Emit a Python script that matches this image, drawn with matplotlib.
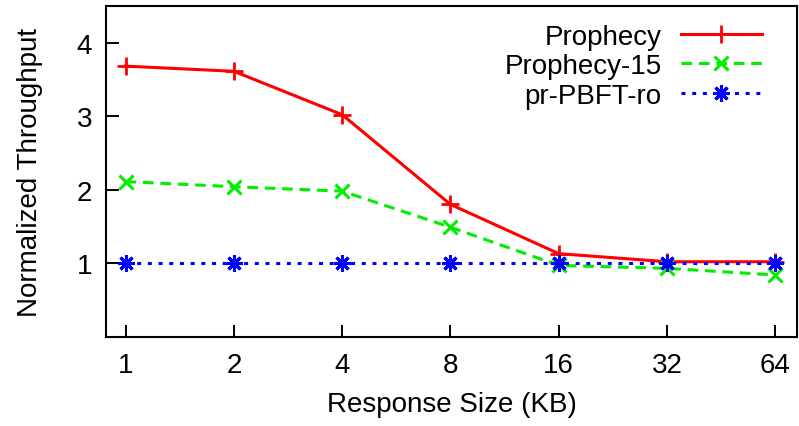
import matplotlib
matplotlib.use("Agg")
import matplotlib.pyplot as plt

sizes = ["1", "2", "4", "8", "16", "32", "64"]
prophecy = [3.68, 3.61, 3.02, 1.80, 1.13, 1.02, 1.02]
prophecy15 = [2.11, 2.04, 1.98, 1.49, 0.97, 0.93, 0.84]
prpbft = [1.0, 1.0, 1.0, 1.0, 1.0, 1.0, 1.0]

plt.rcParams['font.family'] = ['Liberation Sans', 'DejaVu Sans']
fig = plt.figure(figsize=(7.99, 4.27), dpi=100)
ax = fig.add_axes([0.1327, 0.209, 0.9975 - 0.1327, 0.984 - 0.209])

x = list(range(len(sizes)))
lw = 2.2
ax.plot(x, prophecy, color='#ff0000', lw=lw, marker='+', ms=13, mew=2.0,
        label='Prophecy', zorder=3)
ax.plot(x, prophecy15, color='#00ee00', lw=lw, ls=(0, (3.5, 2.2)), marker='x', ms=10, mew=2.2,
        label='Prophecy-15', zorder=3)
ax.plot(x, prpbft, color='#0000ff', lw=lw, ls=(0, (1.3, 2.2)), marker=(8, 2, 0), ms=12, mew=2.2,
        label='pr-PBFT-ro', zorder=4)

ax.set_xlim(-0.18, 6.2)
ax.set_ylim(0, 4.5)
ax.set_xticks(x)
ax.set_xticklabels(sizes)
ax.set_yticks([1, 2, 3, 4])
ax.tick_params(axis='both', direction='in', length=9, width=1.4, labelsize=20,
               top=False, right=False)
ax.tick_params(axis='x', pad=11)
ax.tick_params(axis='y', pad=10)
for s in ax.spines.values():
    s.set_linewidth(1.5)

ax.set_xlabel('Response Size (KB)', fontsize=20, labelpad=9)
ax.set_ylabel('Normalized Throughput', fontsize=20, labelpad=24)

leg = ax.legend(loc='upper right', frameon=False, markerfirst=False, fontsize=20,
                handlelength=2.9, numpoints=1, labelspacing=0.12,
                bbox_to_anchor=(0.975, 1.0), borderaxespad=0.25, handletextpad=0.7)
for t in leg.get_texts():
    t.set_ha('right')

fig.savefig('out.png', dpi=100)
